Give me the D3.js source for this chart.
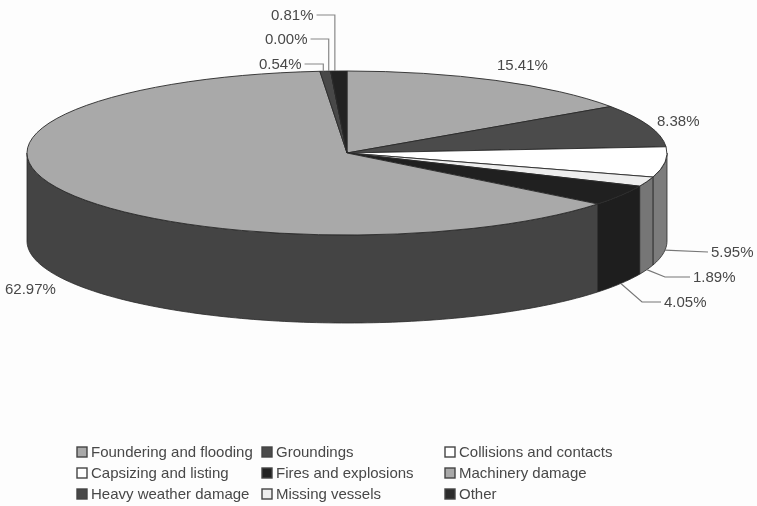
<!DOCTYPE html>
<html><head><meta charset="utf-8">
<script src="https://cdn.jsdelivr.net/npm/d3@7/dist/d3.min.js"></script>
<style>html,body{margin:0;padding:0;background:#fdfdfd}svg{display:block;filter:blur(0.5px)}text{font-family:"Liberation Sans",Arial,sans-serif;fill:#484848}</style>
</head><body><svg id="c" width="757" height="506"></svg>
<script>
const categories=["Foundering and flooding","Groundings","Collisions and contacts","Capsizing and listing","Fires and explosions","Machinery damage","Heavy weather damage","Missing vessels","Other"];
const values=[15.41,8.38,5.95,1.89,4.05,62.97,0.54,0.00,0.81];
const labels=["15.41%","8.38%","5.95%","1.89%","4.05%","62.97%","0.54%","0.00%","0.81%"];
const topColors=["#a9a9a9","#4b4b4b","#ffffff","#eeeeee","#202020","#a9a9a9","#484848","#eeeeee","#222222"];
const sideColors=["#808080","#3c3c3c","#7c7c7c","#767676","#1e1e1e","#444444","#3c3c3c","#777777","#1e1e1e"];
const swatchColors=["#a9a9a9","#4b4b4b","#ffffff","#ffffff","#222222","#a9a9a9","#484848","#eeeeee","#2c2c2c"];
const legendCols=[77,262,445],legendRows=[452,473,494];
// label text anchor points, and the kind of leader each one has
const labelPos=[[497,65,null],[657,121,null],[711,252,"side"],[693,277,"side"],[664,302,"side"],[5,289,null],[259,64,"top"],[265,39,"top"],[271,15,"top"]];
const leaderElbow=[null,null,[],[[665,277]],[[642,302]],null,[],[],[]];
const topNudge=[0,0,0,0,0,0,-2,-2,-4];

const svg=d3.select("#c");
const cx=347,cy=153,rx=320,ry=82,depth=88;
const pie=d3.pie().sort(null).value(d=>d);
const arcs=pie(values);
const X=a=>cx+rx*Math.sin(a), Y=(a,h=0)=>cy+h-ry*Math.cos(a);
const line=d3.line().x(d=>d[0]).y(d=>d[1]);
const stroke="#2a2a2a";

function wall(a0,a1){
  const n=Math.max(2,Math.ceil((a1-a0)/0.02));
  const t=d3.range(n+1).map(i=>a0+(a1-a0)*i/n);
  const p=t.map(a=>[X(a),Y(a)]).concat(t.slice().reverse().map(a=>[X(a),Y(a,depth)]));
  return line(p)+"Z";
}
// side walls: only the front half (pi/2..3pi/2) is visible
arcs.forEach((d,i)=>{
  const a0=Math.max(d.startAngle,Math.PI/2),a1=Math.min(d.endAngle,Math.PI*1.5);
  if(a1>a0) svg.append("path").attr("d",wall(a0,a1)).attr("fill",sideColors[i]).attr("stroke",stroke).attr("stroke-width",0.8).attr("stroke-linejoin","round");
});
// top faces
const arcGen=d3.arc().innerRadius(0).outerRadius(rx);
const g=svg.append("g").attr("transform",`translate(${cx},${cy}) scale(1,${ry/rx})`);
g.selectAll("path").data(arcs).join("path").attr("d",arcGen).attr("fill",(d,i)=>topColors[i])
 .attr("stroke",stroke).attr("stroke-width",0.9).attr("vector-effect","non-scaling-stroke").attr("stroke-linejoin","round");

// leaders and labels
arcs.forEach((d,i)=>{
  const [lx,ly,kind]=labelPos[i];
  const mid=(d.startAngle+d.endAngle)/2;
  const t=svg.append("text").attr("x",lx).attr("y",ly).attr("dy","0.36em").attr("font-size",15).text(labels[i]);
  if(kind==="side"){
    const pts=[[X(mid),Y(mid,depth)],...leaderElbow[i],[lx-3,ly]];
    svg.append("path").attr("d",line(pts)).attr("fill","none").attr("stroke","#777").attr("stroke-width",1.2);
  } else if(kind==="top"){
    const tw=t.node().getComputedTextLength();
    const ax=X(mid)+topNudge[i];
    svg.append("path").attr("d",line([[lx+tw+3,ly],[ax,ly],[ax,Y(mid)]])).attr("fill","none").attr("stroke","#888").attr("stroke-width",1.2);
  }
});

// legend
categories.forEach((c,i)=>{
  const x=legendCols[i%3],y=legendRows[Math.floor(i/3)];
  svg.append("rect").attr("x",x).attr("y",y-5).attr("width",10).attr("height",10).attr("fill",swatchColors[i]).attr("stroke","#444").attr("stroke-width",1.4);
  svg.append("text").attr("x",x+14).attr("y",y).attr("dy","0.36em").attr("font-size",15).text(c);
});
</script></body></html>
